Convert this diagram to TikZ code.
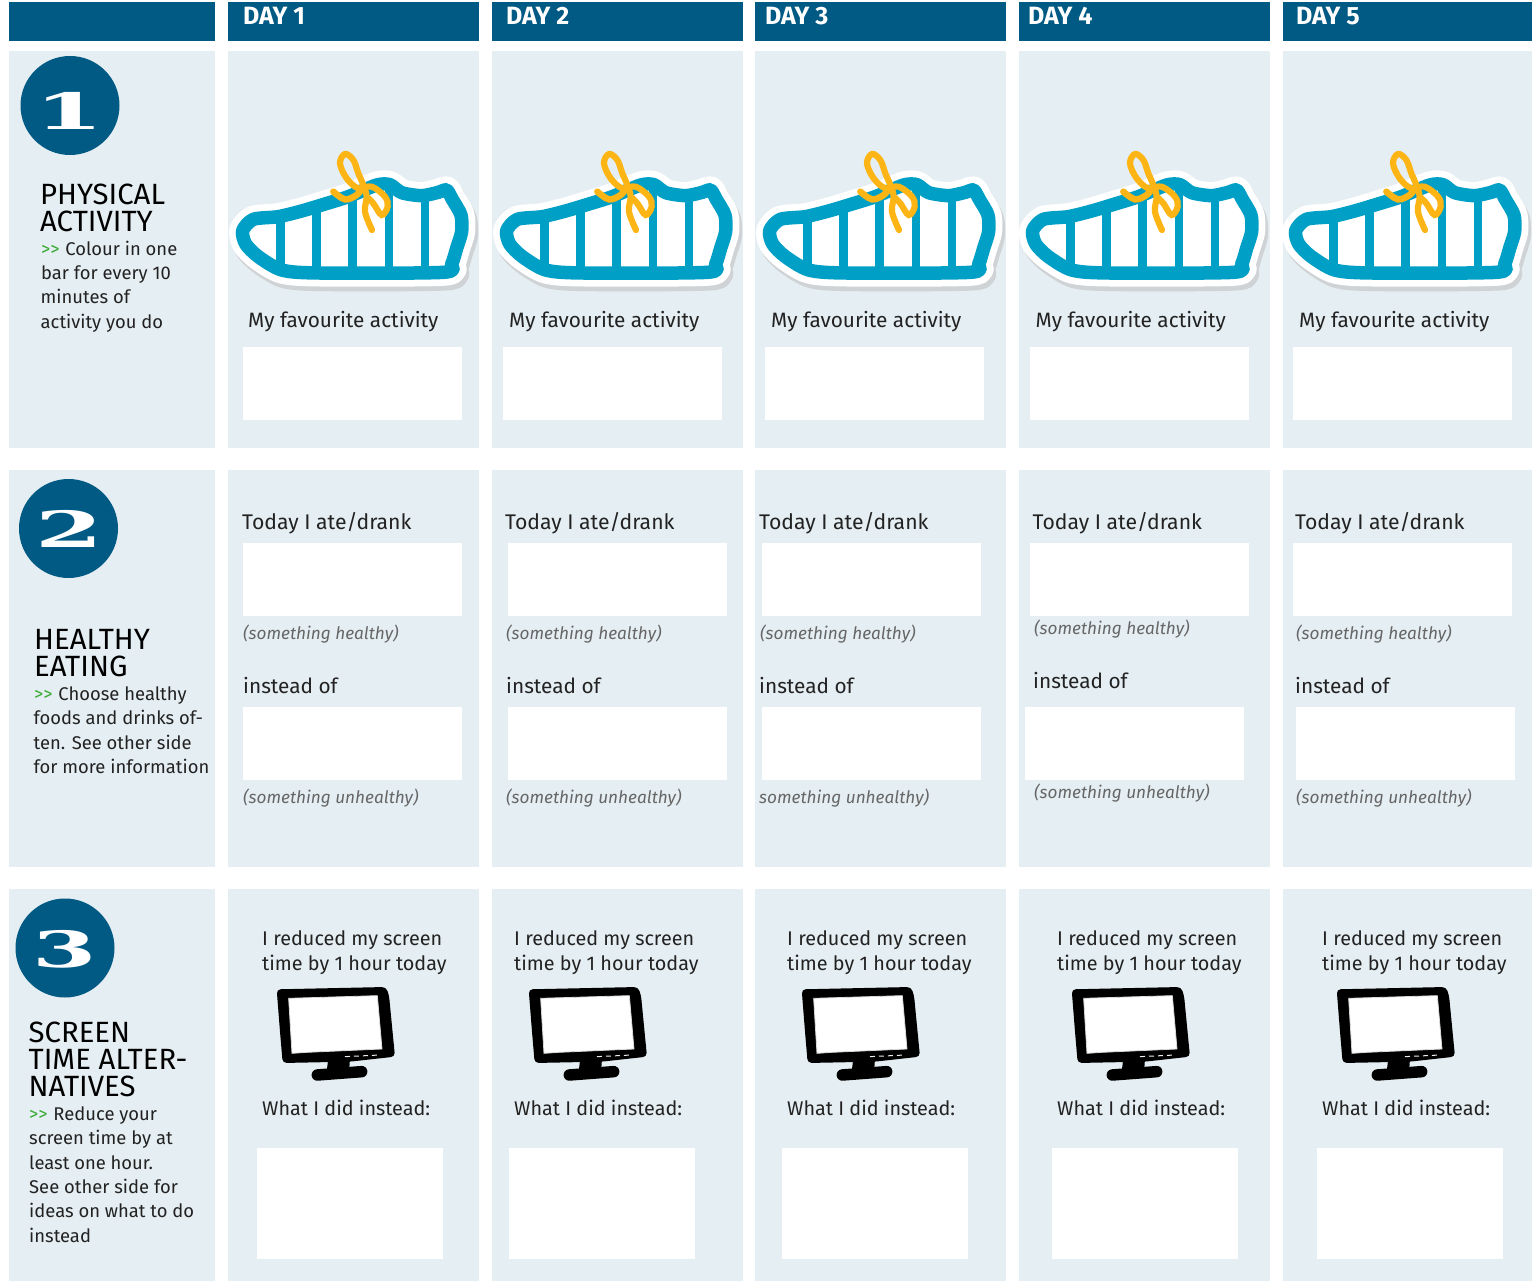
\documentclass[tikz,border=0pt]{standalone}
\usepackage{fontspec}
\setmainfont{Fira Sans}
\newfontfamily\numfont{DejaVu Serif}[BoldFont={DejaVu Serif Bold}]
\definecolor{hdr}{HTML}{005A84}
\definecolor{pan}{HTML}{E5EEF2}
\definecolor{teal1}{HTML}{00A0C6}
\definecolor{lace}{HTML}{FDB515}
\definecolor{shad}{HTML}{CFD3D5}
\definecolor{ink}{HTML}{222222}
\definecolor{grn}{HTML}{3AAA35}
\definecolor{ital}{HTML}{666666}
\newcommand{\gt}{\textcolor{grn}{>{}>}\hspace{.32em}}
\def\shoepath{plot[smooth cycle,tension=.45] coordinates{(53,272) (85,238) (160,230) (230,213) (300,192) (370,170) (455,135) (495,134) (530,158) (590,167) (640,157) (665,150) (682,178) (708,225) (710,275) (695,325) (680,372) (655,397) (280,399) (170,390) (100,350) (62,312)}}
\newcommand{\shoe}[1]{%
 \begin{scope}[shift={(225+#1,140)},scale=.3333]
  \draw[shad,fill=shad,line width=27pt,line join=round,shift={(8,14)}] \shoepath;
  \draw[white,fill=white,line width=27pt,line join=round] \shoepath;
  \begin{scope}
   \clip \shoepath;
   \foreach \b in {167,275,383,492,600} \draw[teal1,line width=8.5pt] (\b,100) -- (\b,420);
  \end{scope}
  \draw[teal1,line width=13.5pt,line join=round] \shoepath;
  \draw[lace,line width=6.2pt,line cap=round] plot[smooth,tension=.6] coordinates{(441,270) (420,215) (425,170) (415,135) (400,100) (385,60) (360,42) (345,70) (365,115) (400,145) (440,140) (480,170) (488,200) (470,225) (445,190) (425,170)};
  \draw[lace,line width=6.5pt,line cap=round] plot[smooth,tension=.6] coordinates{(325,155) (360,178) (395,165) (415,140)};
 \end{scope}}
\newcommand{\monitor}[1]{%
 \begin{scope}[shift={(260+#1,975)},scale=.3333]
  \fill[black,rounded corners=4pt] (50,43) -- (378,36) -- (387,60) -- (405,245) -- (270,260) -- (68,264) -- (60,170) -- cycle;
  \fill[black] (205,250) -- (270,250) -- (268,280) -- (200,290) -- cycle;
  \draw[black,line width=11.5pt,line cap=round] (172,300) -- (305,290);
  \fill[white,draw=white!70!gray,line width=.8pt] (86,70) -- (352,62) -- (366,222) -- (140,232) -- (96,235) -- cycle;
  \draw[white!85!gray,line width=1pt,dash pattern=on 5pt off 4pt] (255,245) -- (360,240);
 \end{scope}}
\tikzset{
 lbl/.style={anchor=base west,inner sep=0pt,text=ink,font=\fontsize{20.8}{24}\selectfont},
 lbt/.style={anchor=base west,inner sep=0pt,text=ink,font=\fontsize{21.2}{24}\selectfont},
 lbs/.style={anchor=base west,inner sep=0pt,text=ink,font=\fontsize{19.8}{24}\selectfont},
 dsc/.style={anchor=base west,inner sep=0pt,text=ink,font=\fontsize{18.4}{24}\selectfont},
 ttl/.style={anchor=base west,inner sep=0pt,text=black,font=\fontsize{29.3}{30}\selectfont},
 itl/.style={anchor=base west,inner sep=0pt,text=ital,font=\fontsize{17.2}{22}\selectfont\itshape},
 dayl/.style={anchor=base west,inner sep=0pt,text=white,font=\fontsize{25}{26}\selectfont\bfseries},
 numl/.style={anchor=center,inner sep=0pt,text=white,font=\numfont\bfseries\fontsize{50}{50}\selectfont},
}
\begin{document}
\begin{tikzpicture}[x=1pt,y=-1pt]
\useasboundingbox (0,0) rectangle (1537,1281);
\fill[white] (0,0) rectangle (1537,1281);
% columns
\foreach \a/\b in {9/215,228/479,492/743,755/1006,1019/1270,1283/1532}{
 \fill[hdr] (\a,2) rectangle (\b,41);
 \fill[pan] (\a,51) rectangle (\b,448);
 \fill[pan] (\a,470) rectangle (\b,867);
 \fill[pan] (\a,889) rectangle (\b,1281);
}
\foreach \n/\x in {1/243,2/506,3/765,4/1028,5/1296}
 \node[dayl] (day\n) at (\x,25) {DAY \n};
% row 1
\foreach \n/\d/\t/\b in {1/0/248/243,2/264/509/503,3/527/771/765,4/790/1035.5/1030,5/1053/1299/1293}{
 \shoe{\d}
 \node[lbl] (fav\n) at (\t,327) {My favourite activity};
 \fill[white] (\b,347) rectangle +(219,73);
}
% row 2
\foreach \n/\tx/\bx/\hx/\ix/\lx/\dy in {
 1/242/243/243/243/243/0,
 2/505/508/506/506/508/0,
 3/759/762/760/759/762/0,
 4/1032.5/1030/1034/1033/1025/-5,
 5/1295/1293/1296/1295/1296/0}{
 \node[lbt] (today\n) at (\tx,529) {Today I ate/drank};
 \fill[white] (\bx,543) rectangle +(219,73);
 \node[itl] (healthy\n) at (\hx,639+\dy) {(something healthy)};
 \node[lbl] (instead\n) at (\ix,693+\dy) {instead of};
 \fill[white] (\lx,707) rectangle +(219,73);
}
\node[itl] (unhealthy1) at (243,803) {(something unhealthy)};
\node[itl] (unhealthy2) at (506,803) {(something unhealthy)};
\node[itl] (unhealthy3) at (759,803) {something unhealthy)};
\node[itl] (unhealthy4) at (1034,798) {(something unhealthy)};
\node[itl] (unhealthy5) at (1296,803) {(something unhealthy)};
% row 3
\foreach \n/\t/\d/\b in {1/262/0/257,2/514/252/509,3/787/525/782,4/1057/795/1052,5/1322/1060/1317}{
 \node[lbs] (red\n) at (\t,945) {I reduced my screen};
 \node[lbs] (tim\n) at (\t,970) {time by 1 hour today};
 \monitor{\d}
 \node[lbs] (what\n) at (\t,1115) {What I did instead:};
 \fill[white] (\b,1148) rectangle +(186,111);
}
% left column
\fill[hdr] (70,105.5) circle (49.5);
\fill[hdr] (68.5,528.5) circle (49.5);
\fill[hdr] (65,948) circle (49.5);
\node[numl] (n1) at (69,110.5) {\scalebox{2.0}[1]{1}};
\node[numl] (n2) at (69,529) {\scalebox{1.95}[1]{2}};
\node[numl] (n3) at (65,949) {\scalebox{1.85}[1]{3}};
\node[ttl] (t1a) at (40,205) {PHYSICAL};
\node[ttl] (t1b) at (40,232) {ACTIVITY};
\node[dsc] (d1a) at (41,256) {\gt Colour in one};
\node[dsc] (d1b) at (41,280) {bar for every 10};
\node[dsc] (d1c) at (40.5,304) {minutes of};
\node[dsc] (d1d) at (40.5,329) {activity you do};
\node[ttl] (t2a) at (34,649) {HEALTHY};
\node[ttl] (t2b) at (34,676) {EATING};
\node[dsc] (d2a) at (34,700) {\gt Choose healthy};
\node[dsc] (d2b) at (33.5,724) {foods and drinks of-};
\node[dsc] (d2c) at (33.5,749) {ten. See other side};
\node[dsc] (d2d) at (33.5,773) {for more information};
\node[ttl] (t3a) at (28.5,1042.5) {SCREEN};
\node[ttl] (t3b) at (28.5,1069.5) {TIME ALTER-};
\node[ttl] (t3c) at (28.5,1096.5) {NATIVES};
\node[dsc] (d3a) at (29,1120) {\gt Reduce your};
\node[dsc] (d3b) at (29,1144) {screen time by at};
\node[dsc] (d3c) at (29,1169) {least one hour.};
\node[dsc] (d3d) at (29,1193) {See other side for};
\node[dsc] (d3e) at (29,1217) {ideas on what to do};
\node[dsc] (d3f) at (29,1242) {instead};
\end{tikzpicture}
\end{document}
